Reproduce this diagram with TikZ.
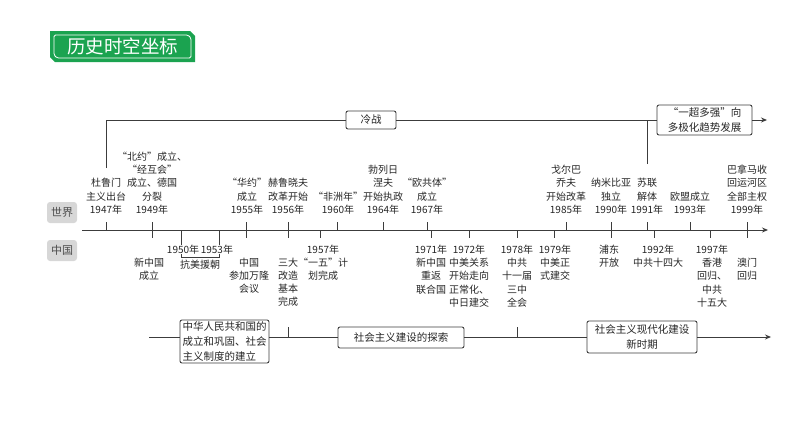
\documentclass[tikz,border=0pt]{standalone}
\usepackage{fontspec}
\setmainfont{Noto Sans CJK SC}
\usepackage{tikz}
\usetikzlibrary{positioning, arrows.meta}
\definecolor{titlegreen}{RGB}{27,163,80}
\definecolor{linegray}{RGB}{60,60,60}
\definecolor{tagfill}{RGB}{215,215,215}

\begin{document}
\begin{tikzpicture}[x=1pt, y=-1pt, line width=0.9pt, color=linegray,
    every node/.style={inner sep=0pt, outer sep=0pt, text=black!85},
    lab/.style={align=center, font=\fontsize{10}{13.2}\selectfont},
    wlab/.style={lab, anchor=south},
    clab/.style={lab, anchor=north},
    box/.style={draw=linegray, rounded corners=2pt, align=center, fill=white, font=\fontsize{10.5}{15}\selectfont},
    tag/.style={fill=tagfill, rounded corners=3pt, minimum width=30pt, minimum height=21pt, font=\fontsize{11}{11}\selectfont, text=black!70},
    axis/.style={-{Stealth[length=6pt, width=5pt]}}]
    \useasboundingbox (0,0) rectangle (794,447);

    \fill[titlegreen] (50,31) -- (190,31) -- (195,36) -- (195,62) -- (55,62) -- (50,57) -- cycle;
    \draw[white, line width=0.8pt, rounded corners=1.5pt] (54,35) -- (188,35) -- (191,38) -- (191,58) -- (57,58) -- (54,55) -- cycle;
    \node (title) [text=white, font=\fontsize{18.5}{18.5}\selectfont] at (122.5,46.5) {历史时空坐标};

    \node (world) [tag] at (62,212.5) {世界};
    \node (china) [tag] at (62,250.5) {中国};

    \coordinate (axstart) at (82,230);
    \coordinate (axend) at (768,230);
    \draw[axis] (axstart) -- (axend);
    \draw (106,222) -- (106,230) (337,222) -- (337,230) (383,222) -- (383,230) (427,222) -- (427,230)
          (566,222) -- (566,230) (647,222) -- (647,230) (690,222) -- (690,230);
    \draw (152,222) -- (152,238) (246,222) -- (246,238) (288,222) -- (288,238) (611,222) -- (611,238) (747,222) -- (747,238);
    \draw (320,230) -- (320,238) (431,230) -- (431,238) (469,230) -- (469,238) (517,230) -- (517,238)
          (554,230) -- (554,238) (654,230) -- (654,238) (710,230) -- (710,238);
    \draw (181,230) -- (181,257) -- (219,257) -- (219,230);

    \coordinate (cwfoot) at (106,168);
    \coordinate (sufoot) at (647,164);
    \coordinate (cwend) at (767,120);
    \node (cold) [box, minimum width=50pt, minimum height=18pt] at (371,120) {冷战};
    \node (multi) [box, minimum width=95pt, minimum height=30pt] at (704.5,120) {“一超多强”向\\多极化趋势发展};
    \draw (cwfoot) |- (cold.west);
    \draw (cold.east) -- (multi.west);
    \draw (sufoot) -- (sufoot |- multi.west);
    \draw[axis] (multi.east) -- (cwend);

    \coordinate (cnstart) at (149,337);
    \coordinate (cnend) at (771,337);
    \node (found) [box, align=left, minimum width=89pt, minimum height=43pt] at (224.5,341.5) {中华人民共和国的\\成立和巩固、社会\\主义制度的建立};
    \node (explore) [box, minimum width=126pt, minimum height=21pt] at (401,337.5) {社会主义建设的探索};
    \node (modern) [box, minimum width=110pt, minimum height=32pt] at (642,337) {社会主义现代化建设\\新时期};
    \draw (cnstart) -- (cnstart -| found.west);
    \draw (found.east |- cnstart) -- (cnstart -| explore.west);
    \draw (cnstart -| explore.east) -- (cnstart -| modern.west);
    \draw[axis] (cnstart -| modern.east) -- (cnend);
    \draw (288,327) -- (288,337) (517,327) -- (517,337);

    \node (w1947) [wlab] at (106,214) {杜鲁门\\主义出台\\1947年};
    \node (w1949) [wlab] at (152,214) {“北约”成立、\\“经互会”\\成立、德国\\分裂\\1949年};
    \node (w1955) [wlab] at (247,214) {“华约”\\成立\\1955年};
    \node (w1956) [wlab] at (288,214) {赫鲁晓夫\\改革开始\\1956年};
    \node (w1960) [wlab] at (338,214) {“非洲年”\\1960年};
    \node (w1964) [wlab] at (383,214) {勃列日\\涅夫\\开始执政\\1964年};
    \node (w1967) [wlab] at (427,214) {“欧共体”\\成立\\1967年};
    \node (w1985) [wlab] at (566,214) {戈尔巴\\乔夫\\开始改革\\1985年};
    \node (w1990) [wlab] at (611,214) {纳米比亚\\独立\\1990年};
    \node (w1991) [wlab] at (647,214) {苏联\\解体\\1991年};
    \node (w1993) [wlab] at (690,214) {欧盟成立\\1993年};
    \node (w1999) [wlab] at (747,214) {巴拿马收\\回运河区\\全部主权\\1999年};

    \node (c1950) [clab, fill=white, inner xsep=0.5pt] at (200,245) {1950年\,1953年};
    \node (kmyc) [clab] at (200,260) {抗美援朝};
    \node (c1949) [clab] at (149,258) {新中国\\成立};
    \node (c1955) [clab] at (249,258) {中国\\参加万隆\\会议};
    \node (c1956) [clab] at (288,258) {三大\\改造\\基本\\完成};
    \node (c1957) [clab] at (323,245) {1957年\\“一五”计\\划完成};
    \node (c1971) [clab] at (431,245) {1971年\\新中国\\重返\\联合国};
    \node (c1972) [clab] at (469,245) {1972年\\中美关系\\开始走向\\正常化、\\中日建交};
    \node (c1978) [clab] at (517,245) {1978年\\中共\\十一届\\三中\\全会};
    \node (c1979) [clab] at (555,245) {1979年\\中美正\\式建交};
    \node (c1990) [clab] at (609,245) {浦东\\开放};
    \node (c1992) [clab] at (658,245) {1992年\\中共十四大};
    \node (c1997) [clab] at (712,245) {1997年\\香港\\回归、\\中共\\十五大};
    \node (c1999) [clab] at (747,258) {澳门\\回归};
\end{tikzpicture}
\end{document}
